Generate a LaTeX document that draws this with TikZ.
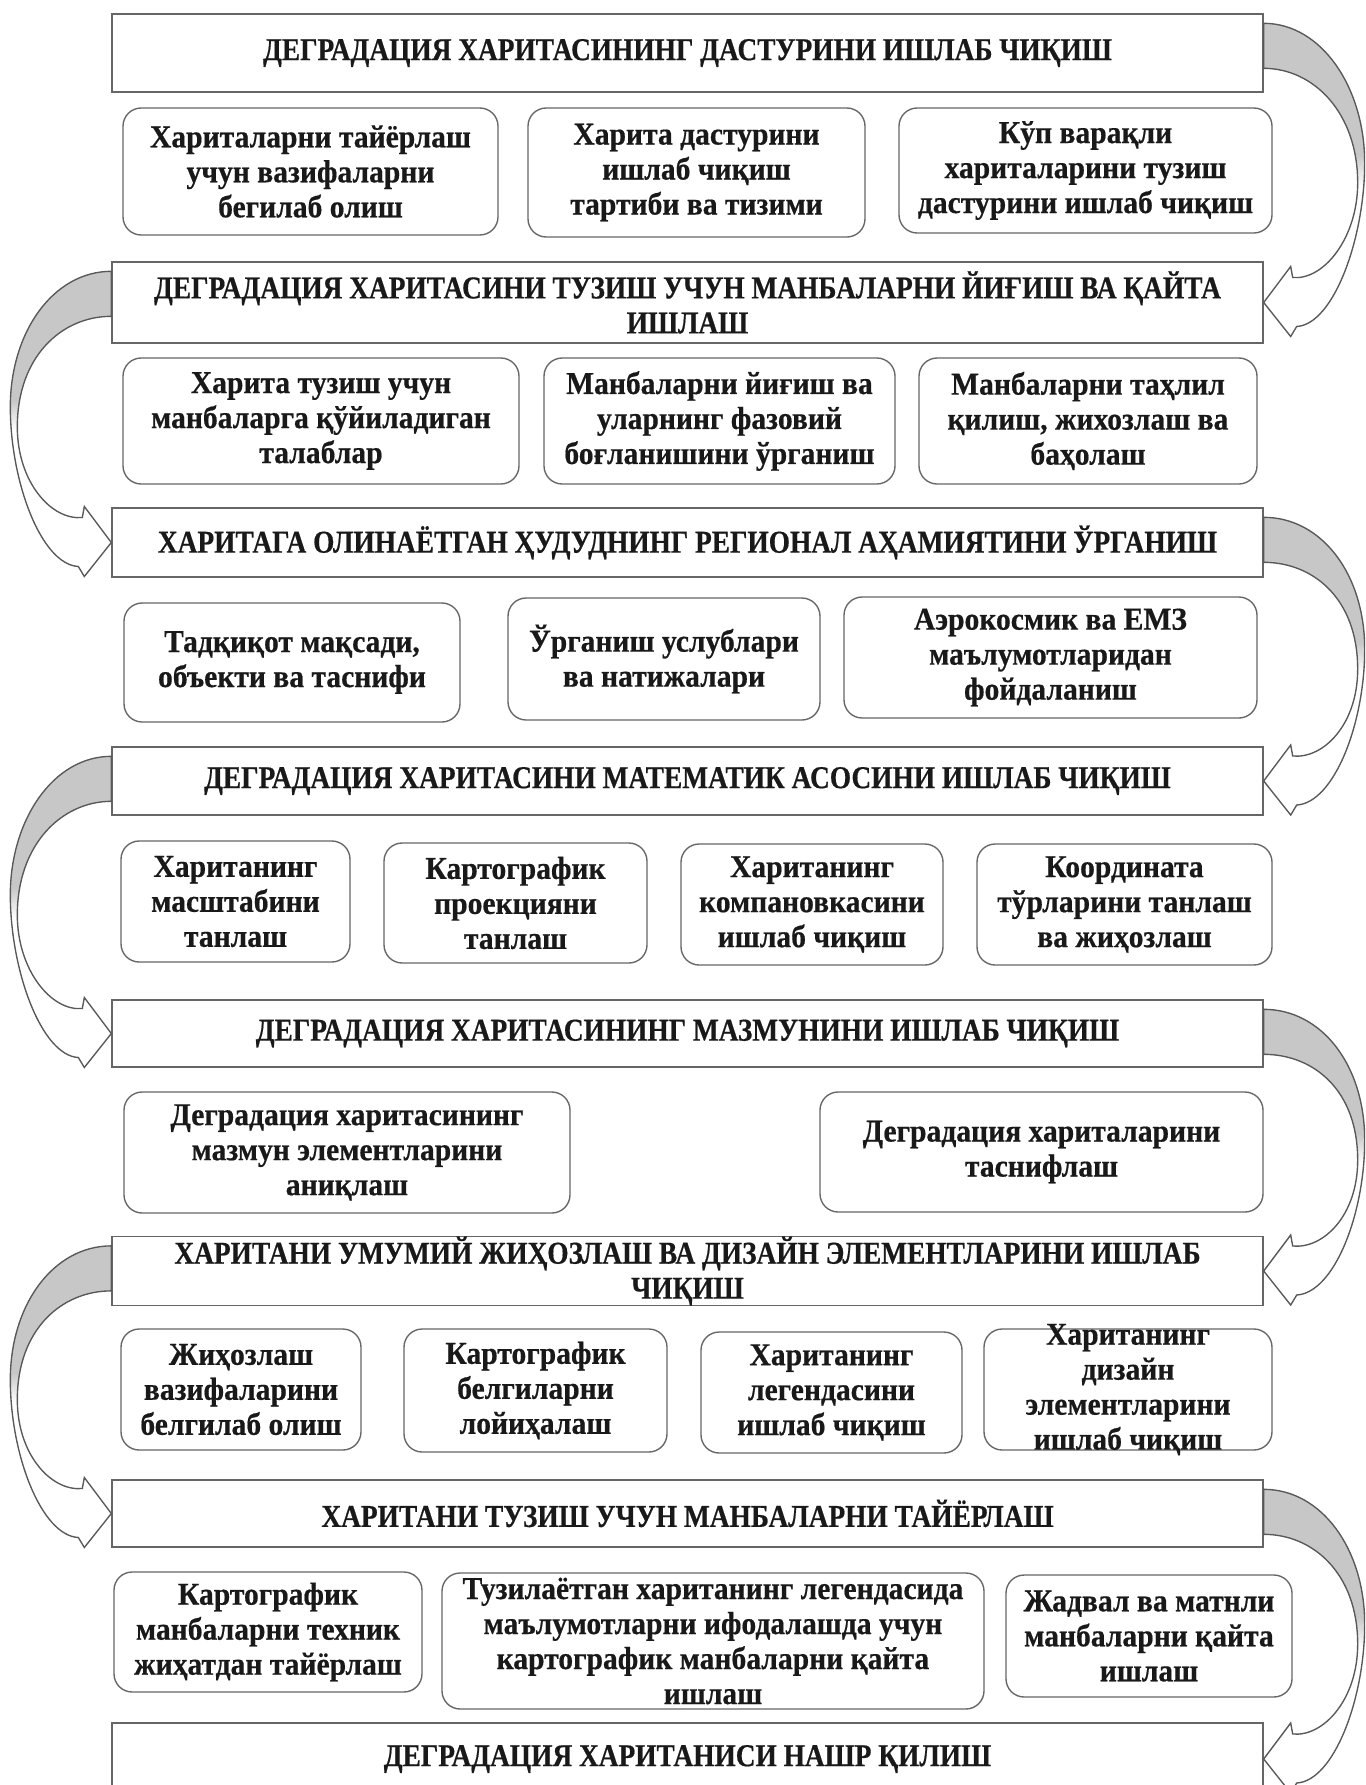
\documentclass[tikz,border=0pt]{standalone}
\usepackage{fontspec}
\setmainfont{Liberation Serif}
\newfontfamily\headfont{Liberation Serif}[FakeStretch=0.86, FakeBold=0.5]
\newfontfamily\boxfont{Liberation Serif}[FakeStretch=0.93, FakeBold=0.5]
\usepackage{tikz}
\usetikzlibrary{calc}

\pgfdeclareverticalshading{bandshade}{100bp}{color(0bp)=(white); color(25bp)=(white); color(49bp)=(white); color(54bp)=(black!22); color(75bp)=(black!22); color(100bp)=(black!22)}

% #1 corner of the source box, #2 side of the target box, #3 = 1 right, -1 left
\newcommand{\bendarrow}[3]{%
  \filldraw[bandarrow]
    ($(#1)+(0,10)$) .. controls ($(#1)+(#3*58,10)$) and ($(#1)!0.5!(#2)+(#3*101,-70)$)
    .. ($(#1)!0.5!(#2)+(#3*101,5)$) .. controls ($(#1)!0.5!(#2)+(#3*101,80)$) and ($(#2)+(#3*70,22)$)
    .. ($(#2)+(#3*33,24)$) -- ($(#2)+(#3*27,34)$) -- (#2) -- ($(#2)+(#3*27,-36)$) -- ($(#2)+(#3*29,-25)$)
    .. controls ($(#2)+(#3*60,-22)$) and ($(#1)!0.5!(#2)+(#3*94,80)$)
    .. ($(#1)!0.5!(#2)+(#3*94,25)$) .. controls ($(#1)!0.5!(#2)+(#3*94,-45)$) and ($(#1)+(#3*50,55)$)
    .. ($(#1)+(0,55)$) -- cycle;}

\begin{document}
\begin{tikzpicture}[x=0.44pt, y=-0.44pt,
  boxtext/.style={align=center, text=black!90, inner sep=0pt,
    font=\boxfont\bfseries\fontsize{14}{15.4}\selectfont},
  headbox/.style={draw=black!60, line width=0.6pt, fill=white, inner sep=0pt, align=center, text=black!90,
    font=\headfont\bfseries\fontsize{14}{15.4}\selectfont, minimum width=1151*0.44pt},
  subbox/.style={boxtext, draw=black!60, line width=0.6pt, rounded corners=8pt, fill=white},
  bandarrow/.style={draw=black!65, line width=0.6pt, shading=bandshade},
  wd/.style={minimum width=#1*0.44pt},
  ht/.style={minimum height=#1*0.44pt}]
  \clip (0,0) rectangle (1365,1785);

  \node[headbox, ht=78] (h1) at (687.5,53) {ДЕГРАДАЦИЯ ХАРИТАСИНИНГ ДАСТУРИНИ ИШЛАБ ЧИҚИШ};
  \node[headbox, ht=81] (h2) at (687.5,302.5) {ДЕГРАДАЦИЯ ХАРИТАСИНИ ТУЗИШ УЧУН МАНБАЛАРНИ ЙИҒИШ ВА ҚАЙТА\\ИШЛАШ};
  \node[headbox, ht=69] (h3) at (687.5,542.5) {ХАРИТАГА ОЛИНАЁТГАН ҲУДУДНИНГ РЕГИОНАЛ АҲАМИЯТИНИ ЎРГАНИШ};
  \node[headbox, ht=68] (h4) at (687.5,781) {ДЕГРАДАЦИЯ ХАРИТАСИНИ МАТЕМАТИК АСОСИНИ ИШЛАБ ЧИҚИШ};
  \node[headbox, ht=67] (h5) at (687.5,1033.5) {ДЕГРАДАЦИЯ ХАРИТАСИНИНГ МАЗМУНИНИ ИШЛАБ ЧИҚИШ};
  \node[headbox, ht=68] (h6) at (687.5,1271) {ХАРИТАНИ УМУМИЙ ЖИҲОЗЛАШ ВА ДИЗАЙН ЭЛЕМЕНТЛАРИНИ ИШЛАБ\\ЧИҚИШ};
  \node[headbox, ht=67] (h7) at (687.5,1513.5) {ХАРИТАНИ ТУЗИШ УЧУН МАНБАЛАРНИ ТАЙЁРЛАШ};
  \node[headbox, ht=72] (h8) at (687.5,1759) {ДЕГРАДАЦИЯ ХАРИТАНИСИ НАШР ҚИЛИШ};

  \node[subbox, wd=375, ht=127] (s1a) at (310.5,171.5) {Хариталарни тайёрлаш\\учун вазифаларни\\бегилаб олиш};
  \node[subbox, wd=337, ht=129] (s1b) at (696.5,172.5) {Харита дастурини\\ишлаб чиқиш\\тартиби ва тизими};
  \node[subbox, wd=373, ht=125] (s1c) at (1085.5,170.5) {Кўп варақли\\хариталарини тузиш\\дастурини ишлаб чиқиш};

  \node[subbox, wd=396, ht=126] (s2a) at (321,421) {Харита тузиш учун\\манбаларга қўйиладиган\\талаблар};
  \node[subbox, wd=351, ht=126] (s2b) at (719.5,421) {Манбаларни йиғиш ва\\уларнинг фазовий\\боғланишини ўрганиш};
  \node[subbox, wd=338, ht=126] (s2c) at (1088,421) {Манбаларни таҳлил\\қилиш, жихозлаш ва\\баҳолаш};

  \node[subbox, wd=336, ht=119] (s3a) at (292,662.5) {Тадқиқот мақсади,\\объекти ва таснифи};
  \node[subbox, wd=312, ht=122] (s3b) at (664,659) {Ўрганиш услублари\\ва натижалари};
  \node[subbox, wd=413, ht=121] (s3c) at (1050.5,657.5) {Аэрокосмик ва ЕМЗ\\маълумотларидан\\фойдаланиш};

  \node[subbox, wd=229, ht=121] (s4a) at (235.5,901.5) {Хаританинг\\масштабини\\танлаш};
  \node[subbox, wd=263, ht=120] (s4b) at (515.5,903) {Картографик\\проекцияни\\танлаш};
  \node[subbox, wd=262, ht=121] (s4c) at (812,904.5) {Хаританинг\\компановкасини\\ишлаб чиқиш};
  \node[subbox, wd=295, ht=121] (s4d) at (1124.5,904.5) {Координата\\тўрларини танлаш\\ва жиҳозлаш};

  \node[subbox, wd=446, ht=121] (s5a) at (347,1152.5) {Деградация харитасининг\\мазмун элементларини\\аниқлаш};
  \node[subbox, wd=443, ht=120] (s5b) at (1041.5,1152) {Деградация хариталарини\\таснифлаш};

  \node[subbox, wd=240, ht=121] (s6a) at (241,1389.5) {Жиҳозлаш\\вазифаларини\\белгилаб олиш};
  \node[subbox, wd=263, ht=123] (s6b) at (535.5,1390.5) {Картографик\\белгиларни\\лойиҳалаш};
  \node[subbox, wd=261, ht=121] (s6c) at (831.5,1392.5) {Хаританинг\\легендасини\\ишлаб чиқиш};
  \node[subbox, wd=288, ht=121] (s6d) at (1128,1389.5) {};
  \node[boxtext] (s6dtext) at (s6d.center) {Хаританинг\\дизайн\\элементларини\\ишлаб чиқиш};

  \node[subbox, wd=308, ht=120] (s7a) at (268,1632) {Картографик\\манбаларни техник\\жиҳатдан тайёрлаш};
  \node[subbox, wd=542, ht=136] (s7b) at (713,1641) {Тузилаётган хаританинг легендасида\\маълумотларни ифодалашда учун\\картографик манбаларни қайта\\ишлаш};
  \node[subbox, wd=286, ht=122] (s7c) at (1149,1636) {Жадвал ва матнли\\манбаларни қайта\\ишлаш};

  \bendarrow{h1.north east}{h2.east}{1}
  \bendarrow{h2.north west}{h3.west}{-1}
  \bendarrow{h3.north east}{h4.east}{1}
  \bendarrow{h4.north west}{h5.west}{-1}
  \bendarrow{h5.north east}{h6.east}{1}
  \bendarrow{h6.north west}{h7.west}{-1}
  \bendarrow{h7.north east}{h8.east}{1}
\end{tikzpicture}
\end{document}
